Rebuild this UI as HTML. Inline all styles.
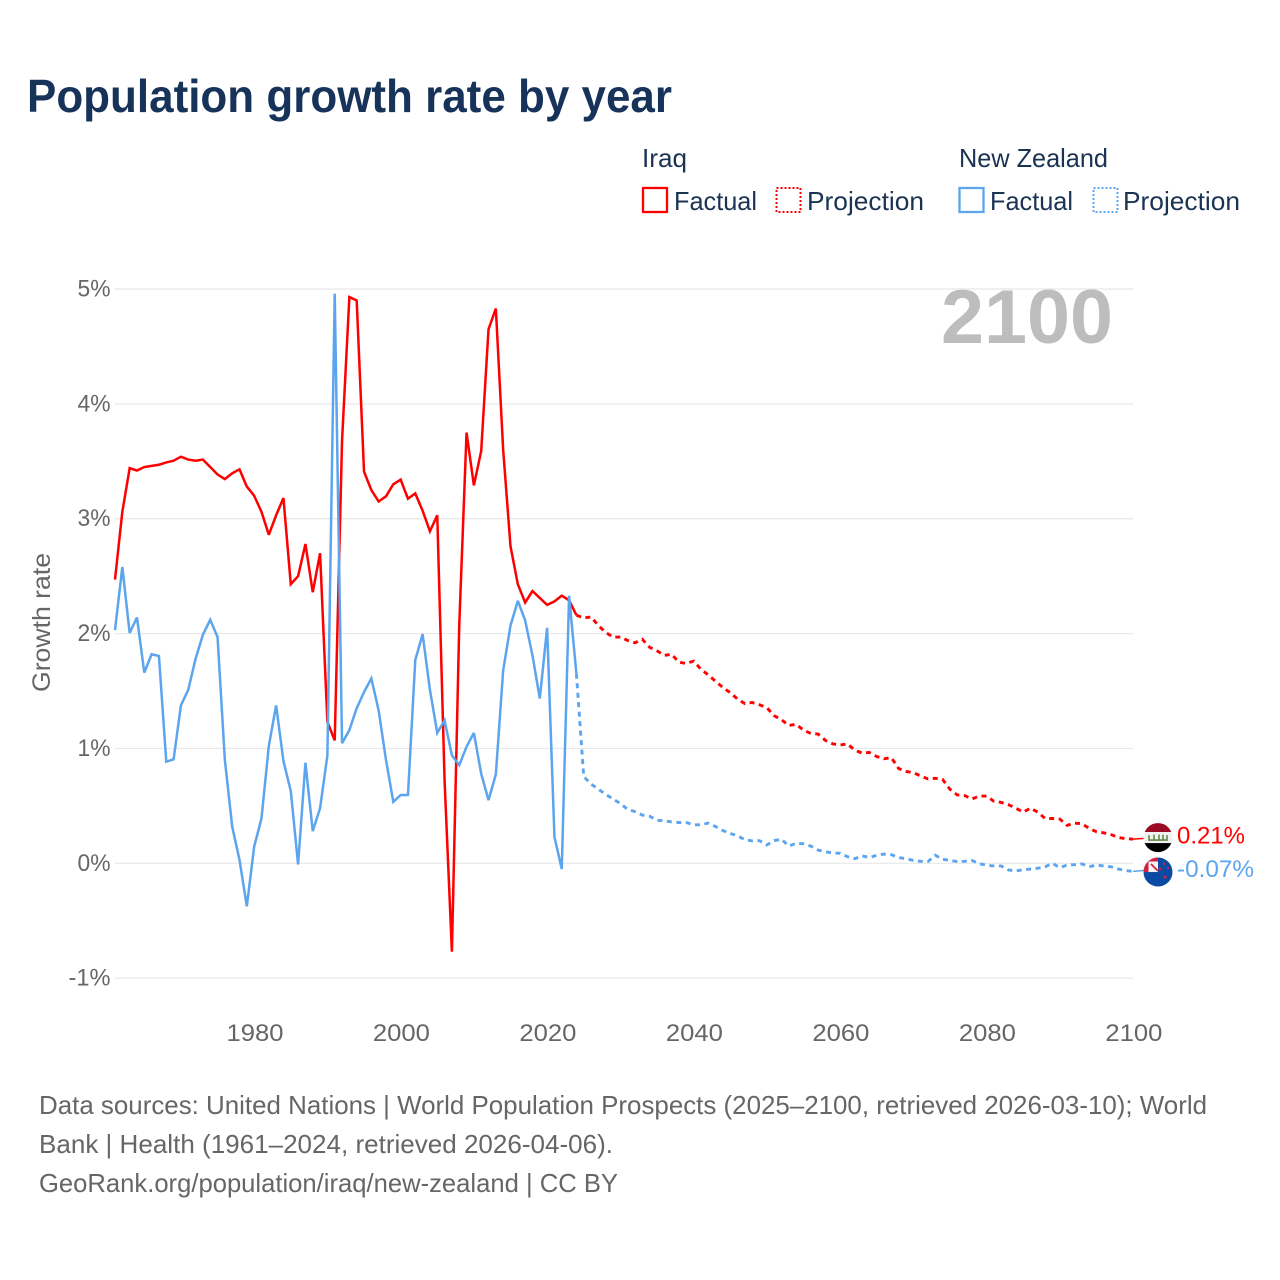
<!DOCTYPE html>
<html lang="en">
<head>
<meta charset="utf-8">
<title>Population growth rate by year</title>
<style>
html,body{margin:0;padding:0;background:#fff;width:1280px;height:1280px;overflow:hidden}
svg{display:block}
text{font-family:"Liberation Sans",sans-serif}
.legend{font-size:26px;fill:#1a3353}
.foot{font-size:26px;fill:#666}
.tick{font-size:24px;fill:#666}
</style>
</head>
<body>
<svg id="chart" xmlns="http://www.w3.org/2000/svg" width="1280" height="1280" viewBox="0 0 1280 1280">
  <defs>
    <clipPath id="flag-clip"><circle cx="0" cy="0" r="14.5"/></clipPath>
  </defs>
  <rect x="0" y="0" width="1280" height="1280" fill="#fff"/>
  <text x="27" y="112" font-size="46" font-weight="700" fill="#17335a" textLength="645" lengthAdjust="spacingAndGlyphs">Population growth rate by year</text>

  <g>
    <text class="legend" x="642" y="167" textLength="45" lengthAdjust="spacingAndGlyphs">Iraq</text>
    <rect x="643" y="188" width="24" height="24" fill="none" stroke="#ff0000" stroke-width="2.3"/>
    <text class="legend" x="674" y="210" textLength="83" lengthAdjust="spacingAndGlyphs">Factual</text>
    <rect x="776.5" y="188" width="24" height="24" fill="none" stroke="#ff0000" stroke-width="2" stroke-dasharray="2 2"/>
    <text class="legend" x="807" y="210" textLength="117" lengthAdjust="spacingAndGlyphs">Projection</text>
    <text class="legend" x="959" y="167" textLength="149" lengthAdjust="spacingAndGlyphs">New Zealand</text>
    <rect x="959.5" y="188" width="24" height="24" fill="none" stroke="#5ca5ee" stroke-width="2.3"/>
    <text class="legend" x="990" y="210" textLength="83" lengthAdjust="spacingAndGlyphs">Factual</text>
    <rect x="1093.5" y="188" width="24" height="24" fill="none" stroke="#5ca5ee" stroke-width="2" stroke-dasharray="2 2"/>
    <text class="legend" x="1123" y="210" textLength="117" lengthAdjust="spacingAndGlyphs">Projection</text>
  </g>

  <g id="grid"></g>
  <g id="y-labels"></g>
  <g id="x-labels"></g>

  <text x="941" y="343" font-size="76" font-weight="700" fill="#bdbdbd" textLength="172" lengthAdjust="spacingAndGlyphs">2100</text>
  <text transform="translate(50,692) rotate(-90)" font-size="25" fill="#666" textLength="139" lengthAdjust="spacingAndGlyphs">Growth rate</text>

  <g id="series"></g>

  <g id="iraq-end">
    <g clip-path="url(#flag-clip)">
      <rect x="-15" y="-15" width="30" height="9.5" fill="#9c0b25"/>
      <rect x="-15" y="-5.5" width="30" height="11" fill="#f2f2f2"/>
      <rect x="-15" y="5.5" width="30" height="10" fill="#000"/>
      <path d="M-9 -2.5v5h18v-5M-4 -3v5M1 -3v5M5 -3v5" fill="none" stroke="#5f8a4a" stroke-width="1.6"/>
    </g>
    <text id="iraq-end-label" x="19" y="6" font-size="24" fill="#ff0000" textLength="68" lengthAdjust="spacingAndGlyphs"></text>
  </g>

  <g id="nz-end">
    <g clip-path="url(#flag-clip)">
      <rect x="-15" y="-15" width="30" height="30" fill="#0a4aa3"/>
      <rect x="-15" y="-15" width="15" height="15" fill="#f4f4f4"/>
      <path d="M-15 -15h15v4.5h-15zM-15 -15h5.5v15h-5.5z" fill="#d3203f"/>
      <path d="M-7 -8L0 -1" stroke="#d3203f" stroke-width="1.8"/>
      <circle cx="2" cy="-3" r="1.4" fill="#d3203f"/>
      <circle cx="6" cy="-8" r="1.2" fill="#d3203f"/>
      <circle cx="10" cy="-4" r="1.2" fill="#d3203f"/>
      <circle cx="7" cy="5" r="1.6" fill="#d3203f"/>
    </g>
    <text id="nz-end-label" x="19" y="5" font-size="24" fill="#5ca5ee" textLength="77" lengthAdjust="spacingAndGlyphs"></text>
  </g>

  <g>
    <text class="foot" x="39" y="1114" textLength="1168" lengthAdjust="spacingAndGlyphs">Data sources: United Nations | World Population Prospects (2025–2100, retrieved 2026-03-10); World</text>
    <text class="foot" x="39" y="1153" textLength="574" lengthAdjust="spacingAndGlyphs">Bank | Health (1961–2024, retrieved 2026-04-06).</text>
    <text class="foot" x="39" y="1192" textLength="579" lengthAdjust="spacingAndGlyphs">GeoRank.org/population/iraq/new-zealand | CC BY</text>
  </g>
</svg>
<script>
const factualStartYear = 1961;
const projectionStartYear = 2024;
const yTicks = [-1, 0, 1, 2, 3, 4, 5];
const xTicks = [1980, 2000, 2020, 2040, 2060, 2080, 2100];
const iraqFactual = [2.47,3.06,3.44,3.42,3.45,3.46,3.47,3.49,3.505,3.54,3.515,3.505,3.515,3.45,3.385,3.345,3.395,3.43,3.28,3.20,3.06,2.86,3.03,3.18,2.43,2.50,2.78,2.36,2.70,1.23,1.07,3.68,4.93,4.90,3.41,3.25,3.15,3.195,3.30,3.34,3.175,3.22,3.07,2.89,3.03,0.72,-0.77,2.07,3.75,3.29,3.59,4.65,4.83,3.60,2.76,2.43,2.27,2.37,2.31,2.25,2.28,2.33,2.29,2.16];
const iraqProjection = [2.16,2.136,2.145,2.07,2.01,1.97,1.97,1.94,1.92,1.95,1.88,1.85,1.81,1.82,1.75,1.74,1.76,1.69,1.64,1.585,1.53,1.485,1.43,1.39,1.40,1.38,1.355,1.285,1.25,1.20,1.21,1.16,1.13,1.125,1.07,1.04,1.03,1.04,0.985,0.96,0.965,0.93,0.91,0.92,0.825,0.80,0.79,0.76,0.735,0.74,0.73,0.645,0.595,0.59,0.56,0.585,0.585,0.54,0.53,0.51,0.48,0.445,0.48,0.445,0.39,0.39,0.385,0.33,0.35,0.345,0.305,0.275,0.265,0.25,0.225,0.215,0.21];
const nzFactual = [2.03,2.58,2.005,2.14,1.66,1.82,1.805,0.885,0.905,1.375,1.51,1.78,1.99,2.12,1.97,0.90,0.32,0.03,-0.375,0.145,0.39,1.02,1.375,0.89,0.63,-0.01,0.875,0.28,0.48,0.94,4.96,1.045,1.16,1.35,1.49,1.61,1.33,0.90,0.535,0.595,0.595,1.77,1.995,1.51,1.135,1.245,0.94,0.855,1.015,1.135,0.78,0.55,0.775,1.68,2.07,2.285,2.115,1.81,1.435,2.05,0.23,-0.05,2.33,1.65];
const nzProjection = [1.65,0.755,0.69,0.645,0.60,0.56,0.52,0.47,0.45,0.42,0.41,0.375,0.37,0.36,0.355,0.355,0.335,0.335,0.35,0.32,0.285,0.26,0.24,0.205,0.195,0.197,0.16,0.197,0.21,0.15,0.175,0.17,0.15,0.115,0.10,0.09,0.087,0.058,0.04,0.065,0.05,0.07,0.08,0.075,0.05,0.04,0.025,0.017,0.015,0.07,0.035,0.025,0.015,0.017,0.025,-0.003,-0.017,-0.023,-0.023,-0.058,-0.067,-0.055,-0.05,-0.043,-0.03,0.0,-0.038,-0.015,-0.012,-0.005,-0.03,-0.015,-0.023,-0.03,-0.05,-0.064,-0.07];

const SVGNS = 'http://www.w3.org/2000/svg';
const plotLeft = 115;
const plotRight = 1133;
function xScale(year) { return 115 + (year - 1961) * 7.324; }
function yScale(value) { return 863.3 - value * 114.86; }
function linePoints(values, startYear) {
  return values.map(function (v, i) {
    return xScale(startYear + i).toFixed(2) + ',' + yScale(v).toFixed(2);
  }).join(' ');
}
function formatPercent(value) { return value.toFixed(2) + '%'; }

const gridLayer = document.getElementById('grid');
const yLabelLayer = document.getElementById('y-labels');
const xLabelLayer = document.getElementById('x-labels');
const seriesLayer = document.getElementById('series');

yTicks.forEach(function (t) {
  const line = document.createElementNS(SVGNS, 'line');
  
  
  line.setAttribute('x1', plotLeft);
  line.setAttribute('x2', plotRight);
  line.setAttribute('y1', yScale(t));
  line.setAttribute('y2', yScale(t));
  line.setAttribute('stroke', '#e8e8e8');
  line.setAttribute('stroke-width', '1.2');
  gridLayer.appendChild(line);

  const label = document.createElementNS(SVGNS, 'text');
  
  
  label.setAttribute('class', 'tick');
  const labelWidth = t < 0 ? 42 : 33;
  label.setAttribute('x', 110.5 - labelWidth);
  label.setAttribute('y', yScale(t) + 7.5);
  label.setAttribute('textLength', labelWidth);
  label.setAttribute('lengthAdjust', 'spacingAndGlyphs');
  label.textContent = t + '%';
  yLabelLayer.appendChild(label);
});

xTicks.forEach(function (t) {
  const label = document.createElementNS(SVGNS, 'text');
  
  
  label.setAttribute('class', 'tick');
  label.setAttribute('x', xScale(t) - 27.7);
  label.setAttribute('y', 1041);
  label.setAttribute('textLength', 57);
  label.setAttribute('lengthAdjust', 'spacingAndGlyphs');
  label.textContent = String(t);
  xLabelLayer.appendChild(label);
});

function addSeries(values, startYear, color, dashed, name) {
  const line = document.createElementNS(SVGNS, 'polyline');
  
  
  line.setAttribute('points', linePoints(values, startYear));
  line.setAttribute('fill', 'none');
  line.setAttribute('stroke', color);
  line.setAttribute('stroke-width', dashed ? '2.9' : '2.5');
  line.setAttribute('stroke-linejoin', 'miter');
  line.setAttribute('stroke-miterlimit', '3');
  if (dashed) {
    line.setAttribute('stroke-dasharray', '5 4.5');
  }
  seriesLayer.appendChild(line);
}
addSeries(iraqFactual, factualStartYear, '#ff0000', false, 'iraq-factual-line');
addSeries(iraqProjection, projectionStartYear, '#ff0000', true, 'iraq-projection-line');
addSeries(nzFactual, factualStartYear, '#5ca5ee', false, 'new-zealand-factual-line');
addSeries(nzProjection, projectionStartYear, '#5ca5ee', true, 'new-zealand-projection-line');

function addConnector(value, color, name) {
  const c = document.createElementNS(SVGNS, 'line');
  
  
  c.setAttribute('x1', xScale(2100));
  c.setAttribute('x2', 1146);
  c.setAttribute('y1', yScale(value));
  c.setAttribute('y2', yScale(value) - 1);
  c.setAttribute('stroke', color);
  c.setAttribute('stroke-width', '1.5');
  seriesLayer.appendChild(c);
}
const iraqLast = iraqProjection[iraqProjection.length - 1];
const nzLast = nzProjection[nzProjection.length - 1];
addConnector(iraqLast, '#ff0000', 'iraq-end-connector');
addConnector(nzLast, '#5ca5ee', 'new-zealand-end-connector');

document.getElementById('iraq-end').setAttribute('transform', 'translate(1158,' + (yScale(iraqLast) - 1.6).toFixed(2) + ')');
document.getElementById('nz-end').setAttribute('transform', 'translate(1158,' + (yScale(nzLast) + 0.7).toFixed(2) + ')');
document.getElementById('iraq-end-label').textContent = formatPercent(iraqLast);
document.getElementById('nz-end-label').textContent = formatPercent(nzLast);
</script>
</body>
</html>
